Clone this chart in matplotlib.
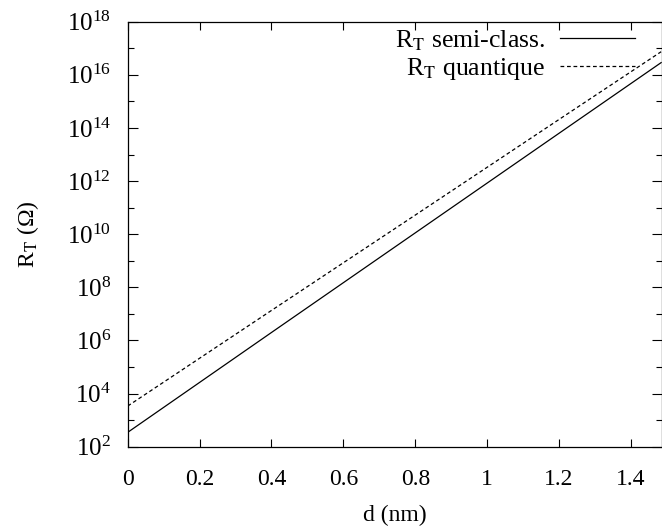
import matplotlib
matplotlib.use("Agg")
import matplotlib.pyplot as plt
from matplotlib.ticker import FixedLocator
import numpy as np

# Data
d_nm = [0.0, 0.4, 0.8, 1.2, 1.484]
log_R_semiclass = [2.54, 6.30, 10.05, 13.80, 16.46]
log_R_quantique = [3.53, 7.13, 10.72, 14.32, 16.87]
R_semiclass = [10 ** v for v in log_R_semiclass]
R_quantique = [10 ** v for v in log_R_quantique]
labels = [r"R$_\mathrm{T}$ semi-class.", r"R$_\mathrm{T}$ quantique"]
x_ticks = [0, 0.2, 0.4, 0.6, 0.8, 1.0, 1.2, 1.4]
x_ticklabels = ["0", "0.2", "0.4", "0.6", "0.8", "1", "1.2", "1.4"]
y_exponents = [2, 4, 6, 8, 10, 12, 14, 16, 18]
y_minor_exponents = [3, 5, 7, 9, 11, 13, 15, 17]

FS = 17
plt.rcParams["font.family"] = ["Liberation Serif", "DejaVu Serif"]
plt.rcParams["mathtext.fontset"] = "stix"
plt.rcParams["font.size"] = FS

fig = plt.figure(figsize=(6.62, 5.32), dpi=100)
AX_L, AX_R, AX_T, AX_B = 127.7, 661.5, 21.7, 446.7
ax = fig.add_axes([AX_L / 662, (532 - AX_B) / 532, (AX_R - AX_L) / 662, (AX_B - AX_T) / 532])

ax.plot(d_nm, R_semiclass, color="black", lw=0.9, label=labels[0])
ax.plot(d_nm, R_quantique, color="black", lw=0.9, dashes=(3, 2.2), label=labels[1])

ax.set_yscale("log")
ax.set_xlim(0, 1.485)
ax.set_ylim(1e2, 1e18)
ax.yaxis.set_major_locator(FixedLocator([10.0 ** e for e in y_exponents]))
ax.yaxis.set_minor_locator(FixedLocator([10.0 ** e for e in y_minor_exponents]))
ax.set_yticklabels([r"$\mathregular{10^{%d}}$" % e for e in y_exponents], fontsize=18)
ax.yaxis.set_minor_formatter(plt.NullFormatter())
ax.xaxis.set_major_locator(FixedLocator(x_ticks))
ax.set_xticklabels(x_ticklabels, fontsize=FS)

ax.tick_params(which="both", direction="in", top=True, right=True, width=0.8)
ax.tick_params(axis="y", which="major", length=7, pad=12)
ax.tick_params(axis="x", which="major", length=6, pad=16)
ax.tick_params(which="minor", length=4)
for s in ax.spines.values():
    s.set_linewidth(0.9)

ax.set_xlabel("d (nm)", fontsize=FS)
ax.set_ylabel(r"R$_\mathrm{T}$ (Ω)", fontsize=FS)
W, H = AX_R - AX_L, AX_B - AX_T
ax.xaxis.set_label_coords(0.5, (AX_B - 505) / H)
ax.yaxis.set_label_coords((41 - AX_L) / W, 0.5)

leg = ax.legend(loc="upper right", frameon=False, markerfirst=False,
                handlelength=2.9, handletextpad=0.6, labelspacing=0.12,
                borderaxespad=0.0, borderpad=0.0, fontsize=18.5,
                bbox_to_anchor=((635 - AX_L) / W, (AX_B - 28) / H))

fig.savefig("out.png", dpi=100)
